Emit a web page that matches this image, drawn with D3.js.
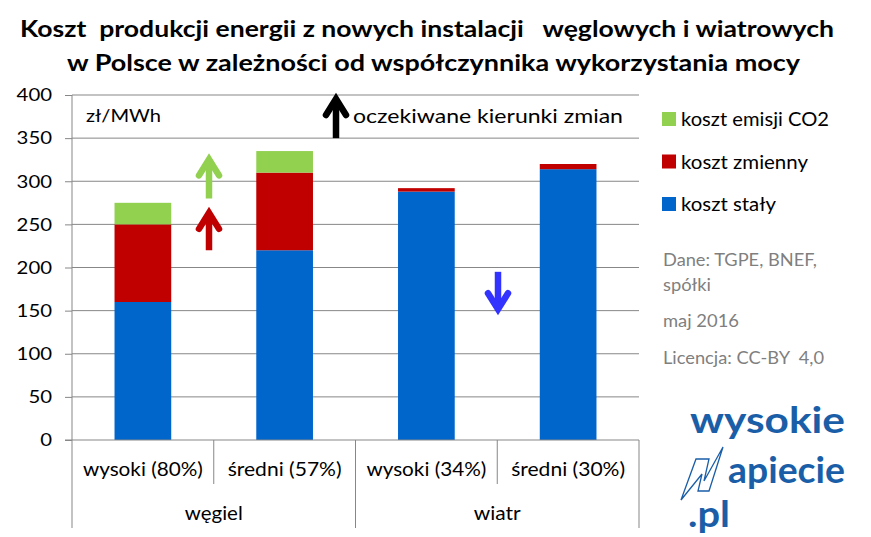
<!DOCTYPE html>
<html>
<head>
<meta charset="utf-8">
<script src="https://cdn.jsdelivr.net/npm/d3@7"></script>
<style>
  body { margin: 0; background: #fff; }
  svg text { font-family: Lato, "Open Sans", sans-serif; white-space: pre; }
</style>
</head>
<body>
<div id="chart"></div>
<script>
// data
var categories = ["wysoki (80%)", "średni (57%)", "wysoki (34%)", "średni (30%)"];
var groups = ["węgiel", "wiatr"];
var fixedCost = [160, 220, 288, 314];
var variableCost = [90, 90, 4, 6];
var co2Cost = [25, 25, 0, 0];
var yTicks = [0, 50, 100, 150, 200, 250, 300, 350, 400];
var seriesNames = ["koszt emisji CO2", "koszt zmienny", "koszt stały"];
var titleLines = ["Koszt  produkcji energii z nowych instalacji   węglowych i wiatrowych",
                  "w Polsce w zależności od współczynnika wykorzystania mocy"];
var notes = ["Dane: TGPE, BNEF,", "spółki", "maj 2016", "Licencja: CC-BY  4,0"];
// expected change arrows
var arrowsData = [
  {x: 209, from: 280, to: 330, color: "#92d050"},
  {x: 209, from: 220, to: 268, color: "#c00000"},
  {x: 336, from: 350, to: 400, color: "#000000"},
  {x: 498, from: 195, to: 147, color: "#3333ff"}
];

var width = 871, height = 537;
var margin = {top: 95, right: 232, bottom: 97, left: 72};
var colors = {fixed: "#0066cc", variable: "#c00000", co2: "#92d050"};
var gridColor = "#878787";

var svg = d3.select("#chart").append("svg")
    .attr("width", width)
    .attr("height", height);

var x = d3.scaleBand()
    .domain(categories)
    .range([margin.left, width - margin.right])
    .paddingInner(0.6)
    .paddingOuter(0.3);

var y = d3.scaleLinear()
    .domain([0, 400])
    .range([height - margin.bottom, margin.top]);

var x0 = margin.left, x1 = width - margin.right;

// stretch a text to a given width
function fit(sel, w) {
  sel.attr("textLength", w).attr("lengthAdjust", "spacingAndGlyphs");
}

// title
svg.selectAll(".title")
  .data(titleLines)
  .enter().append("text")
  .attr("class", "title")
  .attr("x", function(d, i) { return i === 0 ? 20 : 67; })
  .attr("y", function(d, i) { return i === 0 ? 37 : 71; })
  .attr("font-size", 22)
  .attr("font-weight", "bold")
  .text(function(d) { return d; })
  .each(function(d, i) { fit(d3.select(this), i === 0 ? 814 : 733); });

// gridlines + y axis
var yAxis = d3.axisLeft(y)
    .tickValues(yTicks)
    .tickSize(7)
    .tickPadding(13)
    .tickFormat(d3.format("d"));

var gy = svg.append("g")
    .attr("transform", "translate(" + x0 + ",0)")
    .call(yAxis);
gy.select(".domain").remove();
gy.selectAll(".tick line").attr("stroke", gridColor);
gy.selectAll(".tick text")
    .attr("font-size", 18)
    .attr("fill", "#000")
    .attr("font-family", "Lato")
    .each(function(d) { fit(d3.select(this), String(d).length * 11.8); });

svg.append("g").selectAll("line")
  .data(yTicks.filter(function(d) { return d > 0; }))
  .enter().append("line")
  .attr("x1", x0).attr("x2", x1)
  .attr("y1", function(d) { return y(d); })
  .attr("y2", function(d) { return y(d); })
  .attr("stroke", gridColor);

// stacked bars
var table = categories.map(function(c, i) {
  return {cat: c, fixed: fixedCost[i], variable: variableCost[i], co2: co2Cost[i]};
});
var stack = d3.stack().keys(["fixed", "variable", "co2"]);
var layers = stack(table);

svg.append("g").selectAll("g")
  .data(layers)
  .enter().append("g")
  .attr("fill", function(d) { return colors[d.key]; })
  .selectAll("rect")
  .data(function(d) { return d; })
  .enter().append("rect")
  .attr("x", function(d) { return x(d.data.cat); })
  .attr("y", function(d) { return y(d[1]); })
  .attr("width", x.bandwidth())
  .attr("height", function(d) { return y(d[0]) - y(d[1]); });

// x axis frame
var base = y(0);
svg.append("line")
  .attr("x1", x0 - 7).attr("x2", x1)
  .attr("y1", base).attr("y2", base)
  .attr("stroke", gridColor);
svg.append("line")
  .attr("x1", x0).attr("x2", x0)
  .attr("y1", margin.top).attr("y2", base + 88)
  .attr("stroke", gridColor);
// group separators
groups.forEach(function(g, i) {
  var xe = x0 + (i + 1) * 2 * (x1 - x0) / 4;
  svg.append("line")
    .attr("x1", xe).attr("x2", xe)
    .attr("y1", base).attr("y2", base + 88)
    .attr("stroke", gridColor);
  var xm = x0 + (i * 2 + 1) * (x1 - x0) / 4;
  svg.append("line")
    .attr("x1", xm).attr("x2", xm)
    .attr("y1", base).attr("y2", base + 44)
    .attr("stroke", gridColor);
  svg.append("text")
    .attr("x", xm)
    .attr("y", base + 80)
    .attr("text-anchor", "middle")
    .attr("font-size", 19)
    .text(g)
    .each(function() { fit(d3.select(this), i === 0 ? 58 : 47); });
});

svg.selectAll(".cat")
  .data(categories)
  .enter().append("text")
  .attr("class", "cat")
  .attr("x", function(d) { return x(d) + x.bandwidth() / 2; })
  .attr("y", base + 36)
  .attr("text-anchor", "middle")
  .attr("font-size", 19)
  .text(function(d) { return d; })
  .each(function(d) { fit(d3.select(this), d.indexOf("wysoki") === 0 ? 120 : 114); });

// unit label
svg.append("text")
  .attr("x", 86).attr("y", 122)
  .attr("font-size", 17.5)
  .text("zł/MWh")
  .call(fit, 75);

// arrows
function drawArrow(a) {
  var yt = y(a.from), yh = y(a.to);
  var dir = yh < yt ? 1 : -1;
  var g = svg.append("g")
      .attr("fill", "none")
      .attr("stroke", a.color)
      .attr("stroke-width", 6.5);
  g.append("line")
    .attr("x1", a.x).attr("x2", a.x)
    .attr("y1", yt).attr("y2", yh + dir * 4);
  g.append("path")
    .attr("stroke-linejoin", "miter")
    .attr("stroke-linecap", "round")
    .attr("d", "M" + (a.x - 10) + "," + (yh + dir * 20) +
               "L" + a.x + "," + (yh + dir * 4) +
               "L" + (a.x + 10) + "," + (yh + dir * 20));
}
arrowsData.forEach(drawArrow);

svg.append("text")
  .attr("x", 353).attr("y", 123)
  .attr("font-size", 19)
  .text("oczekiwane kierunki zmian")
  .call(fit, 270);

// legend
var legendColors = [colors.co2, colors.variable, colors.fixed];
var legendW = [148, 127, 95];
var leg = svg.append("g").selectAll("g")
  .data(seriesNames)
  .enter().append("g")
  .attr("transform", function(d, i) { return "translate(662," + (112 + i * 42.5) + ")"; });
leg.append("rect")
  .attr("width", 14).attr("height", 14)
  .attr("fill", function(d, i) { return legendColors[i]; });
leg.append("text")
  .attr("x", 19).attr("y", 14)
  .attr("font-size", 18.5)
  .text(function(d) { return d; })
  .each(function(d, i) { fit(d3.select(this), legendW[i]); });

// source notes
var noteY = [266, 291, 327, 364];
var noteW = [154, 48, 76, 161];
svg.append("g").selectAll("text")
  .data(notes)
  .enter().append("text")
  .attr("x", 663)
  .attr("y", function(d, i) { return noteY[i]; })
  .attr("font-size", 16.5)
  .attr("fill", "#7f7f7f")
  .text(function(d) { return d; })
  .each(function(d, i) { fit(d3.select(this), noteW[i]); });

// logo
var logoBlue = "#1a5ea8";
var logo = svg.append("g")
    .attr("fill", logoBlue)
    .attr("font-weight", "bold");
logo.append("text").attr("x", 690).attr("y", 433)
  .attr("font-size", 36).attr("font-family", "DejaVu Sans")
  .text("wysokie").call(fit, 155);
logo.append("text").attr("x", 728).attr("y", 483)
  .attr("font-size", 36).attr("font-family", "DejaVu Sans")
  .text("apiecie").call(fit, 117);
logo.append("text").attr("x", 688).attr("y", 527)
  .attr("font-size", 36).attr("font-family", "DejaVu Sans")
  .text(".pl").call(fit, 42);
svg.append("path")
  .attr("d", "M681,500 L696,459 L709,459 L704,481 L723,447 L709,491 L698,491 L702,474 Z")
  .attr("fill", "#fff")
  .attr("stroke", logoBlue)
  .attr("stroke-width", 1.3);
</script>
</body>
</html>
